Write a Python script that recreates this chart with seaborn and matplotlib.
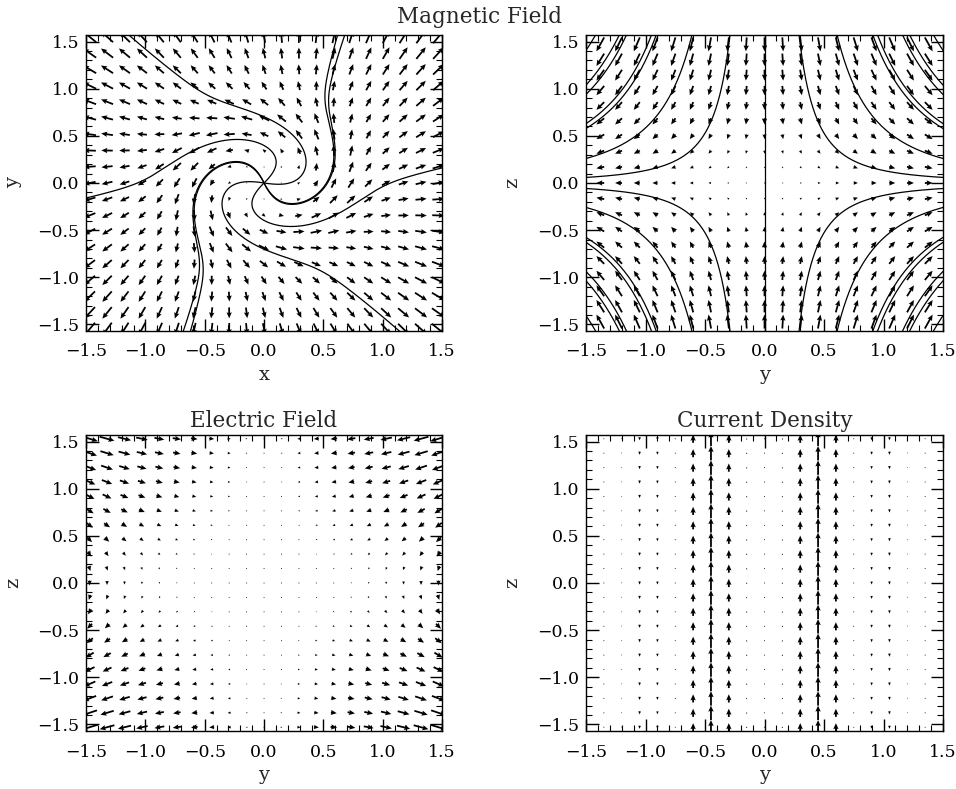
import numpy as np
import matplotlib
matplotlib.use("Agg")
import matplotlib.pyplot as plt
import seaborn as sns
from matplotlib.ticker import MultipleLocator, FuncFormatter

# arrow grid of every panel (arrow centres)
fan_x = np.linspace(-1.47, 1.47, 21)
fan_y = np.linspace(-1.55, 1.55, 19)
spine_y = np.linspace(-1.38, 1.38, 19)
spine_z = np.linspace(-1.47, 1.47, 19)
efield_y = np.linspace(-1.47, 1.47, 21)
efield_z = np.linspace(-1.53, 1.53, 21)
curr_y = np.linspace(-1.35, 1.35, 19)
curr_z = np.linspace(-1.53, 1.53, 21)

# current tube along the spine: main ring + return current
ring_radius = [0.45, 0.98]
ring_width = [0.20, 0.20]
ring_strength = [6.0, -1.5]

# electric field in the y-z plane
e_shear = 1.0   # E_y = -e_shear * y * z
e_down = 0.38   # E_z = -e_down * y^2

# field line seeds = points where the drawn lines leave the frame
fan_seed_x = [-1.14, -1.50, 0.62, 0.68, 1.14, 1.50, -0.62, -0.68]
fan_seed_y = [1.57, -0.16, 1.57, 1.57, -1.57, 0.16, -1.57, -1.57]
spine_seed_y = [0.29, 0.61, 0.91, 0.95, 1.16, 1.22, 1.42]

XLIM = (-1.5, 1.5)
YLIM = (-1.57, 1.57)
ticks = [-1.5, -1.0, -0.5, 0.0, 0.5, 1.0, 1.5]


def j_profile(r):
    out = np.zeros_like(np.asarray(r, dtype=float))
    for c, w, j in zip(ring_radius, ring_width, ring_strength):
        out = out + j * np.exp(-((r - c) / w) ** 2)
    return out


r_fine = np.linspace(0, 3, 3001)
rj = r_fine * j_profile(r_fine)
enclosed = np.concatenate([[0.0], np.cumsum(0.5 * (rj[1:] + rj[:-1]) * np.diff(r_fine))])


def b_phi(r):
    return np.interp(r, r_fine, enclosed) / np.maximum(r, 1e-9)


def b_fan(x, y):
    r = np.hypot(x, y)
    bp = b_phi(r)
    rs = np.maximum(r, 1e-9)
    return x - bp * y / rs, y + bp * x / rs


def b_spine(y, z):
    return y, -2.0 * z


def trace(field, x0, y0, sign, ds=0.004, nmax=6000):
    pts = [(x0, y0)]
    x, y = x0, y0

    def direction(px, py):
        u, v = field(px, py)
        m = np.hypot(u, v)
        return sign * u / (m + 1e-12), sign * v / (m + 1e-12), m

    for _ in range(nmax):
        u1, v1, m = direction(x, y)
        if m < 0.01:
            break
        u2, v2, _ = direction(x + 0.5 * ds * u1, y + 0.5 * ds * v1)
        u3, v3, _ = direction(x + 0.5 * ds * u2, y + 0.5 * ds * v2)
        u4, v4, _ = direction(x + ds * u3, y + ds * v3)
        x += ds * (u1 + 2 * u2 + 2 * u3 + u4) / 6
        y += ds * (v1 + 2 * v2 + 2 * v3 + v4) / 6
        pts.append((x, y))
        if not (XLIM[0] - 0.02 <= x <= XLIM[1] + 0.02 and YLIM[0] - 0.02 <= y <= YLIM[1] + 0.02):
            break
    return np.array(pts)


def field_line(field, x0, y0):
    back = trace(field, x0, y0, -1)
    fwd = trace(field, x0, y0, 1)
    return np.vstack([back[::-1], fwd[1:]])


def draw_line(ax, line, lw=0.9):
    sns.lineplot(x=line[:, 0], y=line[:, 1], sort=False, estimator=None,
                 color="black", linewidth=lw, ax=ax)


def arrows(ax, gx, gy, u, v, xs, ys):
    # velovect-like: the longest vector spans one grid step in each direction
    mag = np.hypot(u, v).max()
    du = u / mag * (xs[1] - xs[0])
    dv = v / mag * (ys[1] - ys[0])
    ax.quiver(gx, gy, du, dv, angles="xy", scale_units="xy", scale=1.0,
              pivot="middle", color="black", width=0.005, headwidth=3.0,
              headlength=3.4, headaxislength=3.0, minlength=0.6)


minus_fmt = FuncFormatter(lambda v, p: f"{v:.1f}".replace("-", "\u2212"))


def style(ax, xlabel, ylabel):
    ax.set_xlim(*XLIM)
    ax.set_ylim(*YLIM)
    ax.set_xticks(ticks)
    ax.set_yticks(ticks)
    ax.xaxis.set_minor_locator(MultipleLocator(0.1))
    ax.yaxis.set_minor_locator(MultipleLocator(0.1))
    ax.xaxis.set_major_formatter(minus_fmt)
    ax.yaxis.set_major_formatter(minus_fmt)
    ax.tick_params(which="both", direction="in", top=True, right=True, colors="black")
    ax.tick_params(which="major", length=9, width=1.0, labelsize=12.5)
    ax.tick_params(axis="x", which="major", pad=9)
    ax.tick_params(axis="y", which="major", pad=5)
    ax.tick_params(which="minor", length=4.5, width=0.8)
    for s in ax.spines.values():
        s.set_color("black")
        s.set_linewidth(1.0)
    ax.set_xlabel(xlabel, fontsize=14, labelpad=4)
    ax.set_ylabel(ylabel, fontsize=14, labelpad=11)


sns.set_theme(style="ticks")
plt.rcParams["font.family"] = ["DejaVu Serif"]

fig = plt.figure(figsize=(9.56, 7.89), dpi=100)
ax1 = fig.add_axes([0.0900, 0.5805, 0.3724, 0.3752])
ax2 = fig.add_axes([0.6130, 0.5805, 0.3734, 0.3752])
ax3 = fig.add_axes([0.0900, 0.0735, 0.3724, 0.3752])
ax4 = fig.add_axes([0.6130, 0.0735, 0.3734, 0.3752])

# magnetic field, fan plane (z = 0)
X, Y = np.meshgrid(fan_x, fan_y)
U, V = b_fan(X, Y)
arrows(ax1, X, Y, U, V, fan_x, fan_y)
for sx, sy in zip(fan_seed_x, fan_seed_y):
    draw_line(ax1, field_line(b_fan, sx, sy))
style(ax1, "x", "y")

# magnetic field, spine plane (x = 0)
Ys, Zs = np.meshgrid(spine_y, spine_z)
U, V = b_spine(Ys, Zs)
arrows(ax2, Ys, Zs, U, V, spine_y, spine_z)
for sy in spine_seed_y:
    for sgn_y in (-1, 1):
        for sgn_z in (-1, 1):
            draw_line(ax2, field_line(b_spine, sgn_y * sy, sgn_z * YLIM[1]))
for sgn_z in (-1, 1):
    draw_line(ax2, field_line(b_spine, 0.0, sgn_z * YLIM[1]))
style(ax2, "y", "z")

# electric field, x = 0
Ye, Ze = np.meshgrid(efield_y, efield_z)
arrows(ax3, Ye, Ze, -e_shear * Ye * Ze, -e_down * Ye ** 2, efield_y, efield_z)
style(ax3, "y", "z")
ax3.set_title("Electric Field", fontsize=15.5, pad=6)

# current density, x = 0
Yc, Zc = np.meshgrid(curr_y, curr_z)
Jz = j_profile(np.abs(Yc))
arrows(ax4, Yc, Zc, np.zeros_like(Jz), Jz, curr_y, curr_z)
style(ax4, "y", "z")
ax4.set_title("Current Density", fontsize=15.5, pad=6)

fig.text(0.502, 0.978, "Magnetic Field", ha="center", va="center", fontsize=15.5)

fig.savefig("out.png", dpi=100)
